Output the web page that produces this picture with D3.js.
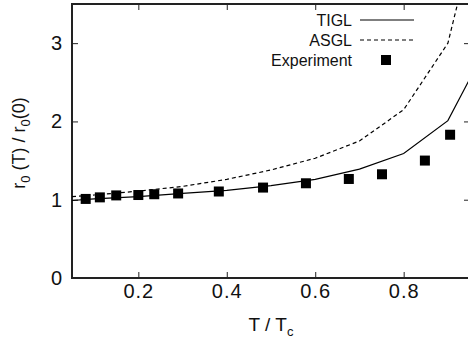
<!DOCTYPE html>
<html>
<head>
<meta charset="utf-8">
<script src="https://cdn.jsdelivr.net/npm/d3@7"></script>
<style>
  body { margin: 0; background: #fff; }
  svg { display: block; font-family: "Liberation Sans", Arial, sans-serif; }
</style>
</head>
<body>
<div class="canvas"></div>
<script>
// values
const tVals = [0.05, 0.1, 0.2, 0.3, 0.4, 0.5, 0.6, 0.7, 0.8, 0.9, 0.95]
const tigl = [0.99, 1.01, 1.04, 1.08, 1.12, 1.18, 1.26, 1.39, 1.59, 2.01, 2.55]
const asgl = [1.04, 1.06, 1.11, 1.17, 1.26, 1.38, 1.53, 1.75, 2.15, 3.0, 4.15]
const expT = [0.081, 0.113, 0.15, 0.2, 0.236, 0.29, 0.382, 0.482, 0.579, 0.676, 0.751, 0.848, 0.905]
const expR = [1.01, 1.03, 1.055, 1.06, 1.07, 1.08, 1.105, 1.155, 1.21, 1.265, 1.325, 1.50, 1.83]
const xTicks = [0.2, 0.4, 0.6, 0.8]
const yTicks = [0, 1, 2, 3]
const legendNames = ["TIGL", "ASGL", "Experiment"]

const width = 468
const height = 345
const margin = { top: 4, right: -2, bottom: 67, left: 72 }
const graphWidth = width - margin.left - margin.right
const graphHeight = height - margin.top - margin.bottom

const svg = d3.select(".canvas")
    .append("svg")
    .attr("width", width)
    .attr("height", height)

const graph = svg.append("g")
    .attr("transform", `translate(${margin.left}, ${margin.top})`)

const scaleX = d3.scaleLinear()
    .domain([0.05, 0.95])
    .range([0, graphWidth])

const scaleY = d3.scaleLinear()
    .domain([0, 3.5])
    .range([graphHeight, 0])

graph.append("clipPath")
    .attr("id", "clip")
    .append("rect")
    .attr("width", graphWidth)
    .attr("height", graphHeight)

// axes, ticks point inward
const xAxisBottom = d3.axisBottom(scaleX).tickValues(xTicks).tickSize(-6).tickPadding(6).tickFormat(d3.format(".1f"))
const xAxisTop = d3.axisTop(scaleX).tickValues(xTicks).tickSize(-6).tickFormat("")
const yAxisLeft = d3.axisLeft(scaleY).tickValues(yTicks).tickSize(-6).tickPadding(9).tickFormat(d3.format("d"))
const yAxisRight = d3.axisRight(scaleY).tickValues(yTicks).tickSize(-6).tickFormat("")

const axes = [
    graph.append("g").attr("transform", `translate(0, ${graphHeight})`).call(xAxisBottom),
    graph.append("g").call(xAxisTop),
    graph.append("g").call(yAxisLeft),
    graph.append("g").attr("transform", `translate(${graphWidth}, 0)`).call(yAxisRight)
]
axes.forEach(a => {
    a.select(".domain").remove()
    a.selectAll("line").attr("stroke", "#222").attr("stroke-width", 1)
    a.selectAll("text").attr("fill", "#111").style("font-size", "20px").style("letter-spacing", "1px")
})

graph.append("rect")
    .attr("width", graphWidth)
    .attr("height", graphHeight)
    .attr("fill", "none")
    .attr("stroke", "#222")
    .attr("stroke-width", 2)

const line = d3.line()
    .x(d => scaleX(d[0]))
    .y(d => scaleY(d[1]))

const plot = graph.append("g").attr("clip-path", "url(#clip)")

plot.append("path")
    .datum(tVals.map((t, i) => [t, tigl[i]]))
    .attr("d", line)
    .attr("fill", "none")
    .attr("stroke", "#000")
    .attr("stroke-width", 1.2)

plot.append("path")
    .datum(tVals.map((t, i) => [t, asgl[i]]))
    .attr("d", line)
    .attr("fill", "none")
    .attr("stroke", "#000")
    .attr("stroke-width", 1.2)
    .attr("stroke-dasharray", "4,3")

const sq = 10
plot.selectAll("rect.exp")
    .data(expT.map((t, i) => [t, expR[i]]))
    .enter()
    .append("rect")
    .attr("class", "exp")
    .attr("x", d => scaleX(d[0]) - sq / 2)
    .attr("y", d => scaleY(d[1]) - sq / 2)
    .attr("width", sq)
    .attr("height", sq)
    .attr("fill", "#000")

// legend
const legend = svg.append("g").attr("transform", "translate(352, 20)")
legendNames.forEach((name, i) => {
    const row = legend.append("g").attr("transform", `translate(0, ${i * 20})`)
    row.append("text")
        .attr("x", 0)
        .attr("y", 6)
        .attr("text-anchor", "end")
        .style("font-size", "16px")
        .attr("fill", "#111")
        .text(name)
    if (i < 2) {
        row.append("line")
            .attr("x1", 8).attr("x2", 62)
            .attr("stroke", "#000")
            .attr("stroke-width", 1.2)
            .attr("stroke-dasharray", i === 1 ? "4,3" : null)
    } else {
        row.append("rect")
            .attr("x", 34 - sq / 2).attr("y", -sq / 2)
            .attr("width", sq).attr("height", sq)
            .attr("fill", "#000")
    }
})

// axis titles
const xTitle = svg.append("text")
    .attr("x", 271)
    .attr("y", 331)
    .attr("text-anchor", "middle")
    .style("font-size", "19px")
    .attr("fill", "#111")
xTitle.append("tspan").text("T / T")
xTitle.append("tspan").attr("dy", 5).style("font-size", "13px").text("c")

const yTitle = svg.append("text")
    .attr("transform", "translate(25, 143) rotate(-90)")
    .attr("text-anchor", "middle")
    .style("font-size", "18px")
    .attr("fill", "#111")
yTitle.append("tspan").text("r")
yTitle.append("tspan").attr("dy", 5).style("font-size", "13px").text("0")
yTitle.append("tspan").attr("dy", -5).text(" (T) / r")
yTitle.append("tspan").attr("dy", 5).style("font-size", "13px").text("0")
yTitle.append("tspan").attr("dy", -5).text("(0)")
</script>
</body>
</html>
